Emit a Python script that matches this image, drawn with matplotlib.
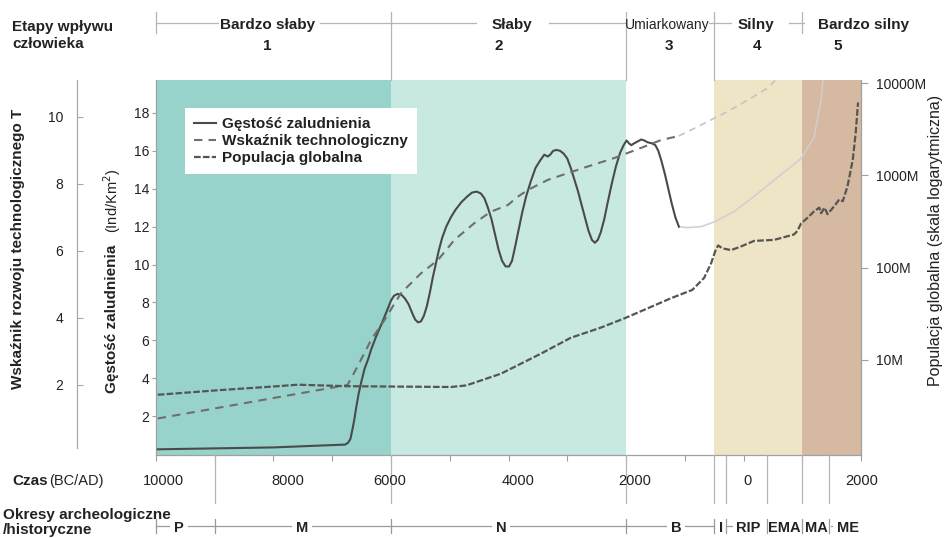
import matplotlib
matplotlib.use("Agg")
import matplotlib.pyplot as plt
from matplotlib.lines import Line2D
from matplotlib.transforms import blended_transform_factory
import numpy as np

plt.rcParams['font.family'] = ['Liberation Sans', 'DejaVu Sans']

# ---------------- data ----------------
# population density (Ind/km^2), years BC negative
DENSITY_YEARS = [-9970, -8000, -6780, -6730, -6690, -6650, -6620, -6590, -6550, -6510,
                 -6450, -6390, -6340, -6260, -6170, -6090, -6000, -5950, -5890, -5820,
                 -5760, -5700, -5640, -5590, -5540, -5490, -5440, -5390, -5340, -5290,
                 -5240, -5190, -5130, -5060, -4980, -4900, -4800, -4700, -4620, -4540,
                 -4470, -4410, -4350, -4290, -4230, -4170, -4110, -4050, -3990, -3940,
                 -3890, -3830, -3770, -3700, -3620, -3540, -3460, -3390, -3330, -3290,
                 -3240, -3180, -3120, -3060, -3000, -2940, -2880, -2820, -2760, -2700,
                 -2640, -2580, -2530, -2480, -2430, -2370, -2310, -2240, -2170, -2100,
                 -2040, -1990, -1950, -1910, -1860, -1800, -1740, -1690, -1630, -1560,
                 -1500, -1450, -1400, -1340, -1280, -1220, -1160, -1100]
DENSITY = [0.25, 0.35, 0.5, 0.6, 0.8, 1.4, 1.9, 2.5, 3.2, 3.75,
           4.5, 5.0, 5.5, 6.15, 6.8, 7.4, 8.1, 8.35, 8.45, 8.4,
           8.2, 7.9, 7.45, 7.1, 6.95, 7.0, 7.3, 7.8, 8.5, 9.3,
           10.0, 10.7, 11.4, 12.0, 12.5, 12.9, 13.3, 13.6, 13.8, 13.85,
           13.75, 13.5, 13.0, 12.4, 11.6, 10.8, 10.2, 9.9, 9.9, 10.2,
           10.9, 11.8, 12.7, 13.6, 14.4, 15.1, 15.5, 15.8, 15.7, 15.8,
           16.0, 16.05, 16.0, 15.85, 15.6, 15.1, 14.5, 13.9, 13.2, 12.5,
           11.8, 11.3, 11.15, 11.3, 11.7, 12.4, 13.3, 14.3, 15.2, 15.9,
           16.3, 16.55, 16.4, 16.3, 16.4, 16.5, 16.6, 16.55, 16.45, 16.4,
           16.3, 16.0, 15.5, 14.8, 14.0, 13.2, 12.5, 12.0]
DENSITY_LATE_YEARS = [-1100, -950, -720, -500, -160, 180, 520, 980, 1200, 1320, 1400]
DENSITY_LATE = [12.0, 11.95, 12.0, 12.25, 12.8, 13.6, 14.45, 15.6, 16.7, 18.7, 21.0]

# technological development index T
TECH_YEARS = [-9970, -6740, -6570, -6340, -6110, -5830, -5490, -5200, -4920, -4580,
              -4300, -4010, -3840, -3670, -3330, -2990, -2650, -2200, -1750, -1400, -1100]
TECH = [1.0, 2.0, 2.55, 3.34, 3.94, 4.74, 5.33, 5.73, 6.33, 6.83,
        7.17, 7.37, 7.62, 7.82, 8.12, 8.32, 8.52, 8.77, 9.07, 9.31, 9.43]
TECH_LATE_YEARS = [-1100, -720, -270, 130, 410, 520, 600]
TECH_LATE = [9.43, 9.76, 10.16, 10.56, 10.86, 11.05, 11.3]

# global population (millions)
POP_YEARS = [-9970, -8950, -7930, -7590, -6740, -4980, -4720, -4130, -3450, -2940,
             -2430, -2030, -1630, -1230, -870, -670, -550, -470, -430, -360,
             -210, -40, 180, 520, 860, 920, 980, 1090, 1200, 1290,
             1320, 1380, 1430, 1550, 1630, 1690, 1770, 1860, 1910, 1950]
POP = [4.2, 4.7, 5.2, 5.4, 5.2, 5.1, 5.3, 7.1, 11.7, 17.4,
       22.4, 28.2, 36.3, 46.8, 57.5, 77.6, 112, 158, 174, 162,
       155, 170, 195, 200, 229, 251, 302, 347, 407, 447,
       389, 447, 380, 468, 550, 525, 759, 1479, 2884, 6166]

# stages of human impact
STAGE_BOUNDS = [-10000, -6000, -2000, -500, 1000, 2000]
STAGE_NAMES = ["Bardzo słaby", "Słaby", "Umiarkowany", "Silny", "Bardzo silny"]
STAGE_NUMBERS = ["1", "2", "3", "4", "5"]
STAGE_COLORS = ["#97d3ca", "#c8e8e2", "none", "#eee4c6", "#d6b9a1"]

# archaeological / historical periods
PERIOD_BOUNDS = [-9000, -6000, -2000, -500, -300, 400, 1000, 1450]
PERIOD_NAMES = ["P", "M", "N", "B", "I", "RIP", "EMA", "MA", "ME"]

TIME_LABELS = ["10000", "8000", "6000", "4000", "2000", "0", "2000"]
POP_TICKS = [10, 100, 1000, 10000]
POP_TICK_LABELS = ["10M", "100M", "1000M", "10000M"]

# ---------------- figure ----------------
W, H = 947, 538
fig = plt.figure(figsize=(W / 100, H / 100), dpi=100)


def fx(x):
    return x / W


def fy(y):
    return 1 - y / H


TXT = "#222222"
GRID = "#b5b5b5"

rect = [fx(156), fy(455), (861 - 156) / W, (455 - 80) / H]
ax = fig.add_axes(rect)
ax.set_xlim(-10000, 2000)
ax.set_ylim(-0.05, 19.74)

for x0, x1, c in zip(STAGE_BOUNDS[:-1], STAGE_BOUNDS[1:], STAGE_COLORS):
    if c != "none":
        ax.axvspan(x0, x1, color=c, lw=0, zorder=0)

l_dens, = ax.plot(DENSITY_YEARS, DENSITY, color="#4a4a4a", lw=1.5, zorder=3,
                  solid_joinstyle="round")
ax.plot(DENSITY_LATE_YEARS, DENSITY_LATE, color="#cfcfcf", lw=1.1, zorder=2)

for s in ["top", "right"]:
    ax.spines[s].set_visible(False)
for s in ["left", "bottom"]:
    ax.spines[s].set_color("#a0a0a0")
    ax.spines[s].set_linewidth(0.9)
ax.set_xticks(np.arange(-10000, 2001, 1000))
ax.tick_params(axis="x", direction="out", length=4, color="#a0a0a0", labelbottom=False)
ax.set_yticks(range(2, 19, 2))
ax.tick_params(axis="y", direction="out", length=3, color="#a0a0a0", labelsize=10,
               pad=2, labelcolor=TXT)

# technological index on an outer left axis
ax_t = fig.add_axes(rect, sharex=ax)
ax_t.patch.set_visible(False)
for s in ["top", "right", "bottom"]:
    ax_t.spines[s].set_visible(False)
ax_t.spines["left"].set_position(("axes", (77 - 156) / 705))
ax_t.spines["left"].set_color("#a8a8a8")
ax_t.spines["left"].set_linewidth(0.9)
ax_t.set_ylim(-0.09, 11.1)
ax_t.spines["left"].set_bounds(0.12, 11.1)
ax_t.set_yticks([2, 4, 6, 8, 10])
ax_t.tick_params(axis="y", direction="in", length=4, color="#a8a8a8", labelsize=10,
                 pad=10, labelcolor=TXT)
ax_t.tick_params(axis="x", bottom=False, labelbottom=False)
l_tech, = ax_t.plot(TECH_YEARS, TECH, color="#6e6e6e", lw=1.5, dashes=(4, 3))
ax_t.plot(TECH_LATE_YEARS, TECH_LATE, color="#c4c4c4", lw=1.2, dashes=(4, 3))

# global population, log scale on the right
ax_p = ax.twinx()
ax_p.set_yscale("log")
ax_p.set_ylim(0.935, 10790)
for s in ["top", "left", "bottom"]:
    ax_p.spines[s].set_visible(False)
ax_p.spines["right"].set_color("#a0a0a0")
ax_p.spines["right"].set_linewidth(0.9)
ax_p.set_yticks(POP_TICKS)
ax_p.set_yticklabels(POP_TICK_LABELS)
ax_p.minorticks_off()
ax_p.tick_params(axis="y", direction="out", length=5, color="#a0a0a0", labelsize=10,
                 pad=6, labelcolor=TXT)
l_pop, = ax_p.plot(POP_YEARS, POP, color="#555555", lw=1.6, dashes=(3, 1))

leg = ax_p.legend([l_dens, l_tech, l_pop],
                  ["Gęstość zaludnienia", "Wskaźnik technologiczny", "Populacja globalna"],
                  loc="upper left", bbox_to_anchor=(fx(185), fy(108)),
                  bbox_transform=fig.transFigure, borderaxespad=0,
                  prop={"weight": "bold", "size": 11}, borderpad=0.6,
                  handlelength=1.4, handletextpad=0.45, labelspacing=0.2,
                  frameon=True, fancybox=False, framealpha=1)
leg.get_frame().set_facecolor("white")
leg.get_frame().set_edgecolor("none")
for t in leg.get_texts():
    t.set_color(TXT)

# ---------------- axis titles ----------------
fig.text(fx(18), fy(249), "Wskaźnik rozwoju technologicznego T", rotation=90,
         ha="center", va="center", fontsize=11, weight="bold", color=TXT)
fig.text(fx(112), fy(393), "Gęstość zaludnienia", rotation=90,
         ha="center", va="bottom", fontsize=11, weight="bold", color=TXT)
fig.text(fx(112), fy(233), "(Ind/Km$^2$)", rotation=90,
         ha="center", va="bottom", fontsize=10.5, color=TXT)
fig.text(fx(935), fy(240), "Populacja globalna (skala logarytmiczna)", rotation=90,
         ha="center", va="center", fontsize=11.5, color=TXT)

# ---------------- stages of human impact (top) ----------------
fig.text(fx(12), fy(31), "Etapy wpływu", ha="left", va="baseline",
         fontsize=11, weight="bold", color=TXT)
fig.text(fx(12), fy(48.5), "człowieka", ha="left", va="baseline",
         fontsize=11, weight="bold", color=TXT)

xfig = blended_transform_factory(ax.transData, fig.transFigure)
for b in STAGE_BOUNDS[:-1]:
    bottom = 80 if b in (-6000, -2000, -500) else 33
    fig.add_artist(Line2D([b, b], [fy(12), fy(bottom)], transform=xfig,
                          color=GRID, lw=0.9))
for x0, x1 in [(156, 218), (320, 476), (549, 625), (709, 731), (789, 804)]:
    fig.add_artist(Line2D([fx(x0), fx(x1)], [fy(23), fy(23)], color=GRID, lw=0.9))

stage_name_x = [267.5, 511.5, 667, 756, 864]
stage_num_x = [267, 499, 669, 757, 838]
for name, num, xn, xm in zip(STAGE_NAMES, STAGE_NUMBERS, stage_name_x, stage_num_x):
    if name == "Umiarkowany":
        fig.text(fx(xn), fy(28.5), name, ha="center", va="baseline", fontsize=10, color=TXT)
    else:
        fig.text(fx(xn), fy(28.5), name, ha="center", va="baseline", fontsize=11,
                 weight="bold", color=TXT)
    fig.text(fx(xm), fy(50), num, ha="center", va="baseline", fontsize=11,
             weight="bold", color=TXT)

# ---------------- time axis (bottom) ----------------
fig.text(fx(12), fy(485), "Czas", ha="left", va="baseline", fontsize=11,
         weight="bold", color=TXT)
fig.text(fx(49), fy(485), "(BC/AD)", ha="left", va="baseline", fontsize=10.5, color=TXT)
for lab, xp in zip(TIME_LABELS, [163, 288, 390, 518, 635, 747, 862]):
    fig.text(fx(xp), fy(485), lab, ha="center", va="baseline", fontsize=10.5, color=TXT)

for b in PERIOD_BOUNDS:
    fig.add_artist(Line2D([b, b], [fy(455), fy(503)], transform=xfig,
                          color=GRID, lw=0.9))

# ---------------- archaeological periods ----------------
fig.text(fx(3), fy(519.5), "Okresy archeologiczne", ha="left", va="baseline",
         fontsize=11, weight="bold", color=TXT)
fig.text(fx(3), fy(534), "/historyczne", ha="left", va="baseline",
         fontsize=11, weight="bold", color=TXT)

fig.add_artist(Line2D([-10000, 1550], [fy(526), fy(526)], transform=xfig,
                      color="#9a9a9a", lw=0.9, zorder=1))
for b in [-10000] + PERIOD_BOUNDS:
    fig.add_artist(Line2D([b, b], [fy(519), fy(533)], transform=xfig,
                          color="#9a9a9a", lw=0.9, zorder=5))
period_x = [179, 302, 501, 676, 721, 748.5, 784, 816, 848]
for name, xp in zip(PERIOD_NAMES, period_x):
    fig.text(fx(xp), fy(531.5), name, ha="center", va="baseline", fontsize=10.5,
             weight="bold", color=TXT, zorder=3,
             bbox=dict(boxstyle="square,pad=0.25", fc="white", ec="none"))

fig.savefig("out.png", dpi=100)
